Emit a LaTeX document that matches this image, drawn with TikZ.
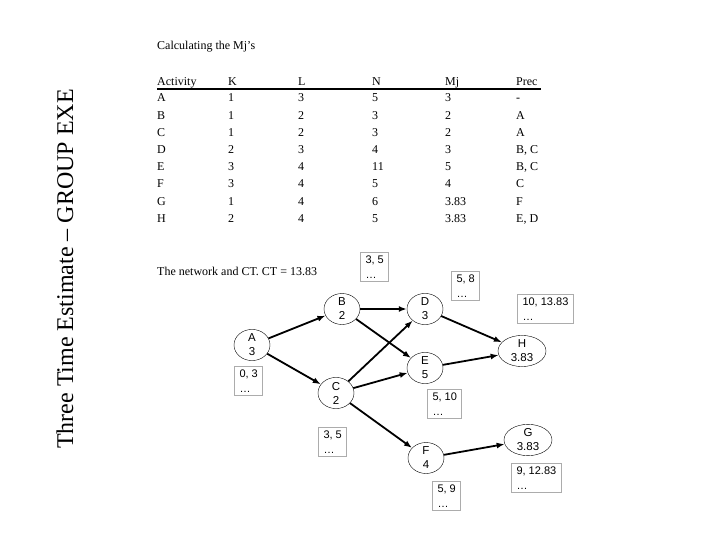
\documentclass[tikz,border=0pt]{standalone}
\usepackage{fontspec}
\setmainfont{Liberation Serif}
\setsansfont{Liberation Sans}
\usetikzlibrary{arrows.meta,shapes.geometric}

\tikzset{
  tab/.style={anchor=base west,inner sep=0pt,font=\fontsize{12}{14}\selectfont},
  act/.style={draw,ellipse,inner sep=0pt,minimum width=36pt,minimum height=30pt,
    align=center,font=\sffamily\fontsize{11.5}{14}\selectfont},
  wideact/.style={act,minimum width=48pt},
  slack/.style={draw=gray!65,line width=1pt,anchor=north west,align=left,
    inner xsep=5pt,inner ysep=3pt,font=\sffamily\fontsize{11}{15}\selectfont},
  link/.style={-{Latex[length=8pt,width=6pt]},line width=1.8pt}
}

\begin{document}
\begin{tikzpicture}[x=1pt,y=-1pt]
  \useasboundingbox (0,0) rectangle (720,540);
  % side title
  \node[rotate=90,inner sep=0pt,font=\fontsize{24}{26}\selectfont] (title) at (65,269)
    {Three Time Estimate -- GROUP EXE};

  % table of estimates
  \node[tab] (calc) at (157,50) {Calculating the Mj’s};
  \node[tab] (hAct) at (157,86) {Activity};
  \node[tab] (hK)   at (228,86) {K};
  \node[tab] (hL)   at (298,86) {L};
  \node[tab] (hN)   at (372,86) {N};
  \node[tab] (hMj)  at (445,86) {Mj};
  \node[tab] (hPrec) at (516,86) {Prec};
  \draw[line width=1.6pt] (157,89) -- (541,89);
  \foreach \a/\k/\l/\n/\m/\p [count=\i] in
    {A/1/3/5/3/-, B/1/2/3/2/A, C/1/2/3/2/A, D/2/3/4/3/{B, C},
     E/3/4/11/5/{B, C}, F/3/4/5/4/C, G/1/4/6/3.83/F, H/2/4/5/3.83/{E, D}}
  {
    \node[tab] (act\i)  at (157,{84.8+17.2*\i}) {\a};
    \node[tab] (k\i)    at (228,{84.8+17.2*\i}) {\k};
    \node[tab] (l\i)    at (298,{84.8+17.2*\i}) {\l};
    \node[tab] (n\i)    at (372,{84.8+17.2*\i}) {\n};
    \node[tab] (mj\i)   at (445,{84.8+17.2*\i}) {\m};
    \node[tab] (prec\i) at (516,{84.8+17.2*\i}) {\p};
  }

  % network
  \node[tab] (net) at (157,275) {The network and CT. CT = 13.83};
  \node[act] (A) at (252,345) {A\\3};
  \node[act] (B) at (342,309) {B\\2};
  \node[act] (C) at (336,393) {C\\2};
  \node[act] (D) at (425,309) {D\\3};
  \node[act] (E) at (425,368) {E\\5};
  \node[act] (F) at (426,458) {F\\4};
  \node[wideact] (H) at (522,351) {H\\3.83};
  \node[wideact] (G) at (528,440) {G\\3.83};

  \draw[link] (A) -- (B);
  \draw[link] (A) -- (C);
  \draw[link] (B) -- (D);
  \draw[link] (B) -- (E);
  \draw[link] (C) -- (D);
  \draw[link] (C) -- (E);
  \draw[link] (C) -- (F);
  \draw[link] (D) -- (H);
  \draw[link] (E) -- (H);
  \draw[link] (F) -- (G);

  % start / finish boxes
  \node[slack] (sA) at (234,366) {0, 3\\…};
  \node[slack] (sB) at (360,252) {3, 5\\…};
  \node[slack] (sC) at (318,427) {3, 5\\…};
  \node[slack] (sD) at (451,271) {5, 8\\…};
  \node[slack] (sE) at (427,389) {5, 10\\…};
  \node[slack] (sF) at (432,481) {5, 9\\…};
  \node[slack] (sH) at (517,294) {10, 13.83\\…};
  \node[slack] (sG) at (511,463) {9, 12.83\\…};
\end{tikzpicture}
\end{document}
